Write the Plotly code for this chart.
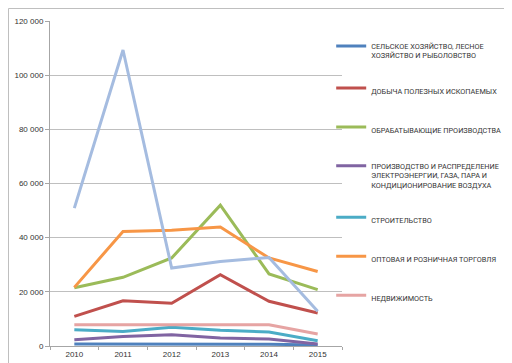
import plotly.graph_objects as go

years = ["2010", "2011", "2012", "2013", "2014", "2015"]

names = [
    "СЕЛЬСКОЕ ХОЗЯЙСТВО, ЛЕСНОЕ<br>ХОЗЯЙСТВО И РЫБОЛОВСТВО",
    "ДОБЫЧА ПОЛЕЗНЫХ ИСКОПАЕМЫХ",
    "ОБРАБАТЫВАЮЩИЕ ПРОИЗВОДСТВА",
    "ПРОИЗВОДСТВО И РАСПРЕДЕЛЕНИЕ<br>ЭЛЕКТРОЭНЕРГИИ, ГАЗА, ПАРА И<br>КОНДИЦИОНИРОВАНИЕ ВОЗДУХА",
    "СТРОИТЕЛЬСТВО",
    "ОПТОВАЯ И РОЗНИЧНАЯ ТОРГОВЛЯ",
    "НЕДВИЖИМОСТЬ",
    "ПРОЧИЕ",
]

agriculture = [700, 750, 800, 750, 650, 400]
mining = [10950, 16700, 15750, 26300, 16500, 12200]
manufacturing = [21500, 25350, 32500, 52000, 26600, 20800]
energy = [2300, 3500, 4150, 2950, 2550, 700]
construction = [6000, 5400, 6900, 5800, 5150, 1950]
trade = [21650, 42300, 42700, 43900, 32500, 27500]
realty = [7850, 7850, 7850, 7850, 7850, 4400]
other = [50900, 109300, 28800, 31200, 32700, 12800]

series = [agriculture, mining, manufacturing, energy, construction, trade, realty, other]
colors = ["#4F81BD", "#C0504D", "#9BBB59", "#8064A2", "#4BACC6", "#F79646", "#E6A4A3", "#A5BCE0"]
show = [True] * 7 + [False]

y_ticks = [0, 20000, 40000, 60000, 80000, 100000, 120000]
y_labels = ["0", "20 000", "40 000", "60 000", "80 000", "100 000", "120 000"]

fig = go.Figure()
for i, (nm, vals, col) in enumerate(zip(names, series, colors)):
    fig.add_trace(go.Scatter(
        x=years, y=vals, name=nm, mode="lines",
        line=dict(color=col, width=3),
        showlegend=show[i], legendgroup=f"g{i}",
    ))

font = "Liberation Sans, Arial, sans-serif"
lfont = "Roboto, Liberation Sans, sans-serif"

fig.update_layout(
    width=512, height=363,
    margin=dict(l=42, r=178, t=13, b=25, autoexpand=False),
    paper_bgcolor="white", plot_bgcolor="white",
    font=dict(family=font, size=8, color="#333333"),
    showlegend=True,
    legend=dict(
        x=0.963, y=0.958, xanchor="left", yanchor="top",
        font=dict(family=lfont, size=7.3, color="#333333"),
        tracegroupgap=20, valign="top", itemwidth=30,
        bgcolor="rgba(0,0,0,0)",
    ),
    xaxis=dict(
        type="category", range=[-0.5, 5.5], showgrid=False, showline=True,
        linecolor="#A6A6A6", ticks="outside", tickson="boundaries", ticklen=3,
        tickcolor="#A6A6A6", tickfont=dict(size=8, color="#333333"),
    ),
    yaxis=dict(
        range=[0, 120000], tickvals=y_ticks, ticktext=y_labels,
        showgrid=True, gridcolor="#BFBFBF", gridwidth=1,
        showline=True, linecolor="#A6A6A6", ticks="outside", ticklen=4,
        tickcolor="#A6A6A6", zeroline=False,
        tickfont=dict(size=8, color="#333333"),
    ),
)

fig.add_shape(type="rect", xref="paper", yref="paper",
              x0=-41.5/292, x1=(292+177.5)/292, y0=-23/325, y1=(325+12.5)/325,
              line=dict(color="#BFBFBF", width=1), fillcolor="rgba(0,0,0,0)")

fig.write_html("out.html")
